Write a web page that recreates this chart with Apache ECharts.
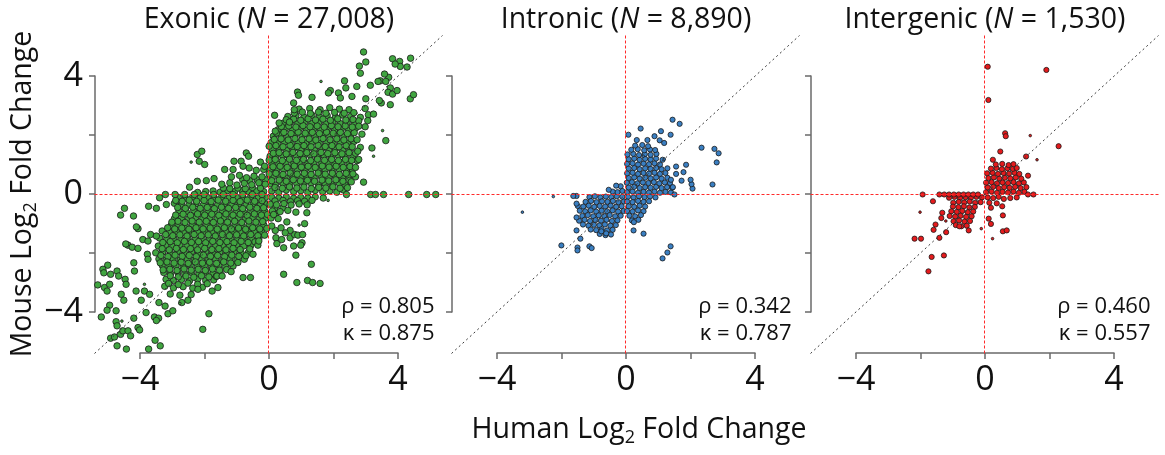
<!DOCTYPE html>
<html><head><meta charset="utf-8">
<script src="https://cdn.jsdelivr.net/npm/echarts@6/dist/echarts.min.js"></script>
<style>html,body{margin:0;padding:0;background:#fff}#c{width:1165px;height:455px}</style>
</head><body><div id="c"></div>
<script>
// ---------------- DATA (human log2 FC, mouse log2 FC) ----------------
const panelTitles = ['Exonic', 'Intronic', 'Intergenic'];
const panelN = ['27,008', '8,890', '1,530'];
const panelRho = ['0.805', '0.342', '0.460'];
const panelKappa = ['0.875', '0.787', '0.557'];
const tickLabels = {'-4': '\u22124', '0': '0', '4': '4'};

const exonicQ1 = [
[0.1,0.12],[0.32,0.08],[0.55,0.15],[0.78,0.1],[1.0,0.13],[1.22,0.07],[1.45,0.14],[1.68,0.1],[1.9,0.12],[2.12,0.08],[2.33,0.15],
[0.05,0.36],[0.22,0.32],[0.45,0.38],[0.66,0.33],[0.88,0.37],[1.1,0.34],[1.32,0.39],[1.55,0.32],[1.76,0.36],[1.98,0.33],[2.2,0.38],[2.4,0.3],
[0.12,0.58],[0.35,0.6],[0.56,0.55],[0.78,0.62],[1.0,0.57],[1.2,0.6],[1.42,0.56],[1.64,0.61],[1.86,0.57],[2.08,0.6],[2.3,0.55],[2.5,0.62],
[0.04,0.82],[0.25,0.8],[0.47,0.85],[0.68,0.79],[0.9,0.84],[1.12,0.81],[1.33,0.86],[1.55,0.8],[1.76,0.84],[1.98,0.79],[2.2,0.85],[2.42,0.8],[2.6,0.86],
[0.1,1.05],[0.32,1.03],[0.54,1.08],[0.76,1.02],[0.98,1.07],[1.2,1.04],[1.41,1.09],[1.63,1.03],[1.85,1.07],[2.06,1.02],[2.28,1.08],[2.5,1.04],
[0.05,1.3],[0.22,1.27],[0.44,1.32],[0.65,1.26],[0.87,1.31],[1.08,1.28],[1.3,1.33],[1.52,1.27],[1.73,1.31],[1.95,1.26],[2.17,1.32],[2.38,1.28],[2.62,1.3],
[0.12,1.52],[0.34,1.55],[0.56,1.5],[0.78,1.56],[1.0,1.51],[1.21,1.55],[1.43,1.5],[1.65,1.56],[1.87,1.51],[2.08,1.55],[2.3,1.5],[2.52,1.56],
[0.08,1.76],[0.28,1.73],[0.5,1.78],[0.71,1.72],[0.93,1.77],[1.15,1.74],[1.36,1.79],[1.58,1.73],[1.8,1.77],[2.01,1.72],[2.23,1.78],[2.45,1.74],[2.65,1.8],
[0.15,1.98],[0.38,2.0],[0.6,1.96],[0.82,2.02],[1.04,1.97],[1.25,2.01],[1.47,1.96],[1.69,2.02],[1.9,1.97],[2.12,2.01],[2.34,1.96],[2.55,2.02],
[0.3,2.2],[0.52,2.23],[0.74,2.18],[0.96,2.24],[1.18,2.19],[1.4,2.23],[1.61,2.18],[1.83,2.24],[2.05,2.19],[2.26,2.23],[2.48,2.18],[2.7,2.25],
[0.45,2.42],[0.68,2.45],[0.9,2.4],[1.12,2.46],[1.34,2.41],[1.56,2.45],[1.78,2.4],[2.0,2.46],[2.22,2.41],[2.44,2.45],[2.66,2.4],
[0.6,2.65],[0.85,2.68],[1.1,2.63],[1.35,2.69],[1.58,2.64],[1.82,2.68],[2.08,2.63],[2.3,2.7],[2.55,2.65],[2.85,2.62],
[0.95,2.9],[1.28,2.92],[1.6,2.88],[1.9,2.95],[2.2,2.9],[2.5,2.88],
[2.75,1.15],[2.85,1.6],[2.9,2.05],[2.7,0.6],[2.8,2.5],[3.0,2.3]
];
const exonicQ1b = [
[0.2,0.24],[0.43,0.21],[0.65,0.26],[0.88,0.22],[1.1,0.25],[1.33,0.2],[1.56,0.24],[1.78,0.22],[2.0,0.26],[2.22,0.21],[2.45,0.23],
[0.1,0.47],[0.33,0.49],[0.55,0.45],[0.77,0.5],[0.99,0.46],[1.21,0.48],[1.43,0.45],[1.66,0.49],[1.87,0.46],[2.09,0.5],[2.31,0.45],[2.52,0.48],
[0.02,0.7],[0.23,0.72],[0.45,0.68],[0.67,0.73],[0.89,0.69],[1.11,0.72],[1.32,0.68],[1.54,0.73],[1.76,0.69],[1.98,0.72],[2.2,0.68],[2.41,0.72],[2.62,0.7],
[0.14,0.94],[0.36,0.96],[0.58,0.92],[0.8,0.97],[1.02,0.93],[1.23,0.96],[1.45,0.92],[1.67,0.97],[1.88,0.93],[2.1,0.96],[2.32,0.92],[2.53,0.95],[2.7,0.92],
[0.02,1.17],[0.21,1.19],[0.43,1.15],[0.65,1.2],[0.87,1.16],[1.09,1.19],[1.31,1.15],[1.52,1.2],[1.74,1.16],[1.96,1.19],[2.17,1.15],[2.39,1.19],[2.58,1.16],
[0.15,1.4],[0.33,1.42],[0.55,1.38],[0.76,1.43],[0.98,1.39],[1.19,1.42],[1.41,1.38],[1.63,1.43],[1.84,1.39],[2.06,1.42],[2.28,1.38],[2.5,1.42],[2.7,1.4],
[0.02,1.64],[0.23,1.66],[0.45,1.62],[0.67,1.67],[0.89,1.63],[1.1,1.66],[1.32,1.62],[1.54,1.67],[1.76,1.63],[1.97,1.66],[2.19,1.62],[2.41,1.66],[2.6,1.62],
[0.18,1.87],[0.39,1.89],[0.61,1.85],[0.82,1.9],[1.04,1.86],[1.26,1.89],[1.47,1.85],[1.69,1.9],[1.91,1.86],[2.12,1.89],[2.34,1.85],[2.56,1.89],[2.75,1.86],
[0.25,2.09],[0.48,2.11],[0.7,2.07],[0.92,2.12],[1.14,2.08],[1.36,2.11],[1.58,2.07],[1.8,2.12],[2.01,2.08],[2.23,2.11],[2.45,2.07],[2.66,2.1],
[0.4,2.31],[0.63,2.33],[0.85,2.29],[1.07,2.34],[1.29,2.3],[1.51,2.33],[1.73,2.29],[1.95,2.34],[2.16,2.3],[2.38,2.33],[2.6,2.29],[2.8,2.32],
[0.55,2.54],[0.78,2.56],[1.0,2.52],[1.23,2.57],[1.46,2.53],[1.69,2.56],[1.92,2.52],[2.15,2.57],[2.4,2.53],[2.62,2.55],
[0.8,2.77],[1.05,2.8],[1.3,2.75],[1.55,2.8],[1.78,2.76],[2.05,2.79],[2.35,2.76],[2.65,2.78]
];
const exonicQ2 = [
[-0.15,0.1],[-0.38,0.12],[-0.6,0.08],[-0.82,0.14],[-1.05,0.1],[-1.28,0.13],[-1.5,0.08],[-1.72,0.12],[-1.95,0.1],[-2.2,0.07],
[-0.25,0.22],[-0.5,0.24],[-0.72,0.2],[-0.95,0.22],[-1.2,0.2],[-1.4,0.22],[-0.1,0.5],[-0.35,0.5],[-0.58,0.47],[-0.8,0.5],
[-0.1,0.35],[-0.3,0.4],[-0.52,0.33],[-0.75,0.38],[-0.98,0.32],[-1.2,0.4],[-1.45,0.35],
[-0.2,0.6],[-0.45,0.62],[-0.68,0.57],[-0.9,0.65],[-1.15,0.6],[-0.15,0.85],[-0.38,0.82],[-0.6,0.9],[-0.25,1.1],
[-2.21,1.36],[-2.07,1.47],[-2.15,1.13],[-1.98,1.02],[-2.21,0.45],[-2.45,0.25],[-1.93,0.47],[-1.69,0.54],[-1.36,0.85],[-1.1,0.85],
[-1.07,1.13],[-0.85,1.13],[-0.69,1.41],[-0.62,1.3],[-0.79,0.96],[-0.12,0.96]
];
const exonicQ3 = [
[-0.1,-0.1],[-0.32,-0.12],[-0.55,-0.08],[-0.78,-0.13],[-1.0,-0.09],[-1.22,-0.12],[-1.45,-0.08],[-1.68,-0.13],[-1.9,-0.1],[-2.12,-0.12],[-2.35,-0.08],[-2.58,-0.12],[-2.8,-0.1],
[-0.05,-0.33],[-0.25,-0.35],[-0.47,-0.31],[-0.7,-0.36],[-0.92,-0.32],[-1.14,-0.35],[-1.36,-0.31],[-1.58,-0.36],[-1.8,-0.32],[-2.02,-0.35],[-2.25,-0.31],[-2.47,-0.36],[-2.7,-0.33],[-2.92,-0.3],
[-0.12,-0.56],[-0.34,-0.58],[-0.56,-0.54],[-0.78,-0.59],[-1.0,-0.55],[-1.22,-0.58],[-1.44,-0.54],[-1.66,-0.59],[-1.88,-0.55],[-2.1,-0.58],[-2.32,-0.54],[-2.55,-0.59],[-2.78,-0.55],
[-0.08,-0.8],[-0.28,-0.82],[-0.5,-0.78],[-0.72,-0.83],[-0.94,-0.79],[-1.16,-0.82],[-1.38,-0.78],[-1.6,-0.83],[-1.82,-0.79],[-2.04,-0.82],[-2.26,-0.78],[-2.48,-0.83],[-2.7,-0.79],[-2.92,-0.82],
[-0.15,-1.03],[-0.38,-1.05],[-0.6,-1.01],[-0.82,-1.06],[-1.04,-1.02],[-1.26,-1.05],[-1.48,-1.01],[-1.7,-1.06],[-1.92,-1.02],[-2.14,-1.05],[-2.36,-1.01],[-2.58,-1.06],[-2.8,-1.02],[-3.02,-1.05],
[-0.22,-1.26],[-0.44,-1.28],[-0.66,-1.24],[-0.88,-1.29],[-1.1,-1.25],[-1.32,-1.28],[-1.54,-1.24],[-1.76,-1.29],[-1.98,-1.25],[-2.2,-1.28],[-2.42,-1.24],[-2.64,-1.29],[-2.86,-1.25],[-3.08,-1.28],[-3.3,-1.24],
[-0.3,-1.5],[-0.52,-1.52],[-0.74,-1.48],[-0.96,-1.53],[-1.18,-1.49],[-1.4,-1.52],[-1.62,-1.48],[-1.84,-1.53],[-2.06,-1.49],[-2.28,-1.52],[-2.5,-1.48],[-2.72,-1.53],[-2.94,-1.49],[-3.16,-1.52],[-3.38,-1.48],
[-0.55,-1.73],[-0.77,-1.75],[-0.99,-1.71],[-1.21,-1.76],[-1.43,-1.72],[-1.65,-1.75],[-1.87,-1.71],[-2.09,-1.76],[-2.31,-1.72],[-2.53,-1.75],[-2.75,-1.71],[-2.97,-1.76],[-3.19,-1.72],[-3.42,-1.75],
[-0.62,-1.96],[-0.85,-1.98],[-1.07,-1.94],[-1.29,-1.99],[-1.51,-1.95],[-1.73,-1.98],[-1.95,-1.94],[-2.17,-1.99],[-2.39,-1.95],[-2.61,-1.98],[-2.83,-1.94],[-3.05,-1.99],[-3.28,-1.95],[-3.5,-1.98],
[-0.75,-2.2],[-0.98,-2.22],[-1.2,-2.18],[-1.42,-2.23],[-1.64,-2.19],[-1.86,-2.22],[-2.08,-2.18],[-2.3,-2.23],[-2.52,-2.19],[-2.74,-2.22],[-2.96,-2.18],[-3.18,-2.23],[-3.4,-2.19],
[-1.1,-2.43],[-1.33,-2.45],[-1.55,-2.41],[-1.77,-2.46],[-1.99,-2.42],[-2.21,-2.45],[-2.43,-2.41],[-2.65,-2.46],[-2.87,-2.42],[-3.09,-2.45],[-3.3,-2.4],
[-1.5,-2.66],[-1.72,-2.68],[-1.94,-2.64],[-2.16,-2.69],[-2.38,-2.65],[-2.6,-2.68],[-2.82,-2.64],[-3.04,-2.69],[-3.25,-2.65],
[-1.7,-2.9],[-1.95,-2.92],[-2.2,-2.88],[-2.45,-2.93],[-2.7,-2.89],[-2.95,-2.92],[-3.18,-2.88],
[-2.05,-3.15],[-2.35,-3.18],[-2.65,-3.13],[-2.95,-3.17],[-3.22,-3.12],[-2.4,-3.4],[-2.75,-3.42],[-3.05,-3.38]
];
const exonicQ3b = [
[-0.2,-0.21],[-0.43,-0.23],[-0.66,-0.19],[-0.88,-0.24],[-1.1,-0.2],[-1.33,-0.23],[-1.56,-0.19],[-1.78,-0.24],[-2.0,-0.2],[-2.23,-0.23],[-2.46,-0.19],[-2.68,-0.23],[-2.88,-0.2],
[-0.15,-0.45],[-0.36,-0.47],[-0.58,-0.43],[-0.8,-0.48],[-1.02,-0.44],[-1.24,-0.47],[-1.46,-0.43],[-1.68,-0.48],[-1.9,-0.44],[-2.12,-0.47],[-2.35,-0.43],[-2.58,-0.47],[-2.82,-0.44],
[-0.03,-0.68],[-0.22,-0.7],[-0.44,-0.66],[-0.66,-0.71],[-0.88,-0.67],[-1.1,-0.7],[-1.32,-0.66],[-1.54,-0.71],[-1.76,-0.67],[-1.98,-0.7],[-2.2,-0.66],[-2.42,-0.71],[-2.65,-0.67],[-2.88,-0.7],
[-0.18,-0.92],[-0.39,-0.94],[-0.61,-0.9],[-0.83,-0.95],[-1.05,-0.91],[-1.27,-0.94],[-1.49,-0.9],[-1.71,-0.95],[-1.93,-0.91],[-2.15,-0.94],[-2.37,-0.9],[-2.59,-0.95],[-2.81,-0.91],[-3.0,-0.94],
[-0.05,-1.15],[-0.27,-1.17],[-0.49,-1.13],[-0.71,-1.18],[-0.93,-1.14],[-1.15,-1.17],[-1.37,-1.13],[-1.59,-1.18],[-1.81,-1.14],[-2.03,-1.17],[-2.25,-1.13],[-2.47,-1.18],[-2.69,-1.14],[-2.91,-1.17],[-3.13,-1.13],
[-0.12,-1.38],[-0.33,-1.4],[-0.55,-1.36],[-0.77,-1.41],[-0.99,-1.37],[-1.21,-1.4],[-1.43,-1.36],[-1.65,-1.41],[-1.87,-1.37],[-2.09,-1.4],[-2.31,-1.36],[-2.53,-1.41],[-2.75,-1.37],[-2.97,-1.4],[-3.19,-1.36],
[-0.42,-1.61],[-0.63,-1.63],[-0.85,-1.59],[-1.07,-1.64],[-1.29,-1.6],[-1.51,-1.63],[-1.73,-1.59],[-1.95,-1.64],[-2.17,-1.6],[-2.39,-1.63],[-2.61,-1.59],[-2.83,-1.64],[-3.05,-1.6],[-3.28,-1.63],
[-0.58,-1.85],[-0.88,-1.87],[-1.1,-1.83],[-1.32,-1.88],[-1.54,-1.84],[-1.76,-1.87],[-1.98,-1.83],[-2.2,-1.88],[-2.42,-1.84],[-2.64,-1.87],[-2.86,-1.83],[-3.08,-1.88],[-3.3,-1.84],
[-0.7,-2.08],[-0.92,-2.1],[-1.14,-2.06],[-1.36,-2.11],[-1.58,-2.07],[-1.8,-2.1],[-2.02,-2.06],[-2.24,-2.11],[-2.46,-2.07],[-2.68,-2.1],[-2.9,-2.06],[-3.12,-2.11],[-3.34,-2.07],
[-0.95,-2.31],[-1.17,-2.33],[-1.39,-2.29],[-1.61,-2.34],[-1.83,-2.3],[-2.05,-2.33],[-2.27,-2.29],[-2.49,-2.34],[-2.71,-2.3],[-2.93,-2.33],[-3.15,-2.29],[-3.36,-2.32],
[-1.3,-2.55],[-1.52,-2.57],[-1.74,-2.53],[-1.96,-2.58],[-2.18,-2.54],[-2.4,-2.57],[-2.62,-2.53],[-2.84,-2.58],[-3.06,-2.54],[-3.27,-2.56],
[-1.62,-2.78],[-1.85,-2.8],[-2.08,-2.76],[-2.32,-2.81],[-2.56,-2.77],[-2.8,-2.8],[-3.05,-2.76],
[-1.9,-3.03],[-2.2,-3.05],[-2.5,-3.01],[-2.8,-3.06],[-3.1,-3.02]
];
const exonicQ4 = [
[0.1,-0.1],[0.32,-0.12],[0.55,-0.08],[0.78,-0.13],[1.0,-0.1],[1.22,-0.12],[1.45,-0.08],[1.7,-0.12],
[0.2,-0.22],[0.45,-0.2],[0.68,-0.24],[0.9,-0.21],[1.12,-0.23],[1.35,-0.2],[0.2,-0.45],[0.45,-0.45],[0.22,-0.68],
[0.05,-0.33],[0.25,-0.35],[0.48,-0.31],[0.7,-0.36],[0.95,-0.32],[1.2,-0.35],[0.12,-0.56],[0.36,-0.58],[0.6,-0.54],[0.85,-0.6],[0.08,-0.8],[0.3,-0.82],
[1.12,-0.99],[0.16,-0.68],[0.21,-1.22],[0.23,-1.47],[0.26,-1.67],[0.41,-1.53],[0.47,-1.81],[0.67,-1.47],[0.81,-1.36],[0.91,-1.38],[1.06,-1.36],
[1.04,-1.64],[1.0,-1.72],[0.78,-1.75],[0.85,-2.06],[0.57,-0.93],[0.67,-1.22],[1.19,-0.62],[1.33,-2.37],[0.47,-2.71],[0.88,-2.99],[1.21,-2.92],
[1.37,-2.99],[1.6,-3.02],[0.39,-1.13],[0.52,-1.3],[0.1,-1.07]
];
const exonicOutliers = [
[2.95,4.84],[3.02,4.5],[3.85,4.61],[4.07,4.52],[4.09,4.35],[4.3,4.33],[4.41,4.63],[3.93,4.43],[3.73,3.98],[3.6,4.09],[3.47,3.86],[3.4,3.84],
[3.64,3.84],[3.78,3.62],[3.71,3.47],[3.85,3.41],[3.99,3.53],[4.4,3.25],[4.5,3.39],[3.5,3.11],[3.78,3.05],[3.44,3.19],[3.16,3.71],[2.82,4.36],
[2.85,4.12],[2.74,3.67],[2.36,3.86],[2.4,3.62],[2.59,3.33],[1.92,3.53],[1.86,3.45],[0.9,3.48],[0.93,3.37],[1.35,3.3],[2.17,3.45],[2.23,3.28],
[0.19,2.69],[0.21,2.15],[0.33,2.43],[0.65,2.46],[0.78,3.11],[0.8,2.88],[3.02,3.25],[3.0,2.92],[3.1,2.71],[3.26,2.73],[3.08,2.51],[3.64,1.83],
[3.21,1.58],[2.95,0.42],[2.77,1.47],[2.8,1.19],[2.57,0.43],
[2.42,0],[3.17,0],[3.32,0],[3.57,0],[4.35,0],[4.91,0],[5.19,0],
[-3.2,0],[-2.9,0],[-2.6,0],[-2.3,0],[-2.0,0],[-1.7,0],[-1.4,0],[-1.1,0],[-0.8,0],[-0.5,0],[-0.2,0],
[-4.47,-0.47],[-4.59,-0.7],[-4.19,-0.73],[-3.72,-0.4],[-3.48,-0.47],[-3.38,-0.11],[-3.17,-0.34],[-4.05,-1.16],[-4.1,-1.1],[-4.36,-1.72],
[-4.43,-1.68],[-4.23,-1.79],[-4.05,-1.83],[-3.9,-1.53],[-3.74,-1.58],[-3.66,-1.36],[-3.48,-1.41],[-3.76,-2.03],[-3.74,-2.2],[-4.99,-2.4],
[-5.14,-2.54],[-5.11,-2.66],[-4.9,-2.71],[-5.3,-3.07],[-5.09,-3.16],[-4.93,-3.05],[-5.01,-3.28],[-4.7,-2.6],[-4.65,-2.77],[-4.45,-2.88],
[-4.42,-3.05],[-4.57,-3.39],[-4.49,-3.59],[-4.18,-2.32],[-4.16,-2.6],[-4.11,-3.28],[-3.95,-3.59],[-3.85,-3.28],[-3.69,-3.39],[-4.93,-3.76],
[-5.01,-3.93],[-4.73,-3.95],[-5.19,-4.16],[-4.73,-4.32],[-4.7,-4.46],[-4.9,-4.88],[-4.78,-4.84],[-4.59,-4.75],[-4.52,-4.63],[-4.36,-4.63],
[-4.28,-4.8],[-4.41,-5.25],[-4.7,-5.14],[-4.05,-4.52],[-4.0,-4.6],[-4.18,-4.2],[-3.8,-4.01],[-3.54,-4.16],[-3.41,-4.2],[-3.48,-4.28],
[-3.52,-4.95],[-3.72,-5.25],[-3.36,-5.14],[-3.4,-3.67],[-3.21,-3.79],[-3.12,-4.05],[-2.97,-3.95],[-2.69,-3.67],[-2.5,-3.59],[-1.85,-4.05],
[-2.04,-4.58],[-2.19,-3.22],[-1.75,-3.28],[-1.57,-3.16],[-1.6,-2.77],[-1.44,-2.77],[-1.16,-2.62],[-0.79,-2.82],[-0.56,-2.82],[-0.48,-2.03],
[-0.33,-1.72],[-0.3,-1.58]
];
const exonicDots = [[1.63,3.84],[3.54,2.17],[3.26,1.3],[0.95,-1.04],[1.85,-0.2],[-2.4,1.1],[-4.55,-4.3],[-3.85,-3.05],[-2.75,-3.7]];

const intronicPts = [
[0.05,0.08],[0.22,0.1],[0.39,0.06],[0.56,0.09],[0.73,0.07],[0.9,0.1],[1.07,0.06],[1.24,0.09],[1.41,0.07],
[0.1,0.24],[0.27,0.26],[0.44,0.22],[0.61,0.25],[0.78,0.23],[0.95,0.26],[1.12,0.22],[1.29,0.25],[1.45,0.23],
[0.04,0.4],[0.2,0.42],[0.37,0.38],[0.54,0.41],[0.71,0.39],[0.88,0.42],[1.05,0.38],[1.22,0.41],[1.38,0.39],
[0.1,0.56],[0.27,0.58],[0.44,0.54],[0.61,0.57],[0.78,0.55],[0.95,0.58],[1.12,0.54],[1.3,0.57],
[0.05,0.72],[0.22,0.74],[0.39,0.7],[0.56,0.73],[0.73,0.71],[0.9,0.74],[1.07,0.7],[1.24,0.73],
[0.1,0.88],[0.27,0.9],[0.44,0.86],[0.61,0.89],[0.78,0.87],[0.95,0.9],[1.12,0.86],[1.3,0.89],
[0.05,1.04],[0.22,1.06],[0.39,1.02],[0.56,1.05],[0.73,1.03],[0.9,1.06],[1.07,1.02],
[0.1,1.2],[0.27,1.22],[0.44,1.18],[0.61,1.21],[0.78,1.19],[0.95,1.22],[1.15,1.18],
[0.06,1.36],[0.24,1.38],[0.42,1.34],[0.6,1.37],[0.78,1.35],[0.96,1.38],
[0.18,1.52],[0.38,1.54],[0.58,1.5],[0.76,1.53],[0.92,1.51],[0.3,1.66],[0.52,1.68],[0.7,1.64],
[-0.1,-0.08],[-0.27,-0.06],[-0.44,-0.09],[-0.61,-0.07],[-0.78,-0.1],[-0.95,-0.06],[-1.12,-0.09],
[-0.05,-0.24],[-0.22,-0.26],[-0.39,-0.22],[-0.56,-0.25],[-0.73,-0.23],[-0.9,-0.26],[-1.07,-0.22],[-1.24,-0.25],
[-0.12,-0.4],[-0.29,-0.42],[-0.46,-0.38],[-0.63,-0.41],[-0.8,-0.39],[-0.97,-0.42],[-1.14,-0.38],[-1.31,-0.41],[-1.48,-0.39],
[-0.06,-0.56],[-0.23,-0.58],[-0.4,-0.54],[-0.57,-0.57],[-0.74,-0.55],[-0.91,-0.58],[-1.08,-0.54],[-1.25,-0.57],[-1.42,-0.55],
[-0.15,-0.72],[-0.32,-0.74],[-0.49,-0.7],[-0.66,-0.73],[-0.83,-0.71],[-1.0,-0.74],[-1.17,-0.7],[-1.34,-0.73],
[-0.25,-0.88],[-0.42,-0.9],[-0.59,-0.86],[-0.76,-0.89],[-0.93,-0.87],[-1.1,-0.9],[-1.27,-0.86],[-1.44,-0.89],
[-0.3,-1.04],[-0.47,-1.06],[-0.64,-1.02],[-0.81,-1.05],[-0.98,-1.03],[-1.15,-1.06],[-1.32,-1.02],
[-0.4,-1.2],[-0.57,-1.22],[-0.74,-1.18],[-0.91,-1.21],[-1.08,-1.19],[-0.45,-1.36],[-0.62,-1.38],[-0.8,-1.34],
[0.08,-0.08],[0.25,-0.1],[0.42,-0.06],[0.59,-0.09],[0.76,-0.07],[0.93,-0.1],
[0.05,-0.24],[0.22,-0.26],[0.39,-0.22],[0.56,-0.25],[0.73,-0.23],
[0.1,-0.4],[0.27,-0.42],[0.44,-0.38],[0.61,-0.41],[0.05,-0.56],[0.22,-0.58],[0.39,-0.54],[0.56,-0.57],
[0.12,-0.72],[0.3,-0.74],[0.48,-0.7],[0.2,-0.88],[0.4,-0.86],
[-0.1,0.12],[-0.25,0.08],[-0.4,0.1],[-0.15,0.28],[-0.29,0.3],[-0.52,0.16],
[1.46,2.54],[1.68,2.4],[0.47,2.24],[0.09,2.03],[2.36,1.59],[2.76,1.55],[2.89,1.4],[2.83,1.09],[2.7,0.34],[2.08,0.2],[2.05,0.35],[2.02,0.5],
[1.74,0.47],[1.8,0.76],[1.88,1.01],[1.52,0.0],[0.68,1.85],[1.1,2.15],[1.4,2.03],[1.06,1.84],[1.2,1.75],[0.9,1.98],[0.35,1.85],
[1.57,0.95],[1.57,0.7],[1.47,0.25],[1.41,0.5],
[1.15,-2.17],[1.3,-1.97],[1.4,-1.76],[0.56,-1.33],[0.25,-1.22],[0.26,-0.94],
[-1.99,-1.73],[-1.49,-1.8],[-1.49,-1.9],[-1.12,-1.76],[-1.05,-1.82],[-1.4,-1.5],[-1.52,-1.22],[-1.52,-0.78],[-1.52,-0.31],[-1.52,-0.05],
[-1.62,-0.05],[-0.75,-1.25],[-0.6,-1.32]
];
const intronicDots = [[-3.2,-0.6],[-2.24,-0.07],[0.55,1.3],[1.2,1.2]];

const intergenicPts = [
[0.05,0.08],[0.22,0.1],[0.39,0.06],[0.56,0.09],[0.73,0.07],[0.9,0.1],[1.07,0.06],[1.24,0.09],
[0.1,0.24],[0.27,0.26],[0.44,0.22],[0.61,0.25],[0.78,0.23],[0.95,0.26],[1.12,0.22],[1.3,0.25],
[0.05,0.4],[0.22,0.42],[0.39,0.38],[0.56,0.41],[0.73,0.39],[0.9,0.42],[1.07,0.38],[1.22,0.41],
[0.12,0.56],[0.29,0.58],[0.46,0.54],[0.63,0.57],[0.8,0.55],[0.97,0.58],[1.14,0.54],
[0.08,0.72],[0.25,0.74],[0.42,0.7],[0.59,0.73],[0.76,0.71],[0.93,0.74],[1.08,0.7],
[0.2,0.88],[0.37,0.9],[0.54,0.86],[0.71,0.89],[0.88,0.87],[1.0,0.9],[0.35,1.02],[0.55,1.04],[0.75,1.0],[0.9,1.03],
[-0.08,-0.1],[-0.25,-0.08],[-0.42,-0.11],[-0.59,-0.09],[-0.76,-0.12],[-0.93,-0.08],[-1.1,-0.11],
[-0.12,-0.26],[-0.29,-0.28],[-0.46,-0.24],[-0.63,-0.27],[-0.8,-0.25],[-0.97,-0.28],
[-0.3,-0.42],[-0.47,-0.44],[-0.64,-0.4],[-0.81,-0.43],[-0.98,-0.41],
[-0.35,-0.58],[-0.52,-0.6],[-0.69,-0.56],[-0.86,-0.59],[-1.03,-0.57],
[-0.4,-0.74],[-0.57,-0.76],[-0.74,-0.72],[-0.91,-0.75],[-1.08,-0.73],
[-0.45,-0.9],[-0.62,-0.92],[-0.79,-0.88],[-0.96,-0.91],[-0.55,-1.06],[-0.72,-1.08],[-0.89,-1.04],
[0.1,-0.1],[0.27,-0.12],[0.44,-0.08],[0.6,-0.15],[0.15,-0.28],[0.38,-0.3],[0.2,-0.45],[0.55,-0.4],[0.8,-0.12],[1.0,-0.1],
[-1.92,0],[-1.4,0],[-1.25,0],[-1.1,0],[-0.95,0],[-0.8,0],[-0.65,0],[-0.5,0],[-0.35,0],[-0.2,0],[1.52,0],[1.35,0],
[0.1,4.34],[1.92,4.23],[0.12,3.21],[0.64,2.08],[0.66,1.98],[0.49,1.46],[0.26,1.18],[1.29,1.29],[2.3,1.64],[1.35,0.64],
[-1.6,-0.23],[-1.31,-0.62],[-1.34,-0.8],[-1.52,-1.02],[-1.58,-1.2],[-1.19,-1.28],[-1.4,-1.47],[-2.17,-1.5],[-1.97,-1.5],
[-1.64,-2.12],[-1.26,-2.07],[-1.74,-2.61],[-0.49,-1.22],[-0.78,-1.08],[0.13,-0.82],[0.2,-1.0],[0.57,-0.71],[0.57,-1.25],[0.69,-1.22]
];
const intergenicDots = [[1.42,2.0],[1.63,1.18],[-2.0,-0.6],[-0.1,-1.16],[0.25,-1.5],[-1.2,-0.9]];

// ---------------- CHART ----------------
const FONT = '"Open Sans", "Noto Sans", sans-serif';
const colors = ['#40a540', '#3a7fc2', '#e41a1c'];
const ptSizes = [6.5, 5.2, 5.2];
const panelPts = [exonicQ1.concat(exonicQ1b, exonicQ2, exonicQ3, exonicQ3b, exonicQ4, exonicOutliers), intronicPts, intergenicPts];
const panelDots = [exonicDots, intronicDots, intergenicDots];
const dataLeft = [94.5, 451.5, 810.5];
const axisLeft = [140, 497, 856];
const zeroX = [269, 626, 985];
const RED = '#ff2a2a';

const grids = [], xAxes = [], yAxes = [], series = [], graphics = [];
const lim = 5.4;
const labelFmt = v => (tickLabels[String(v)] !== undefined ? tickLabels[String(v)] : '');

for (let p = 0; p < 3; p++) {
  grids.push({left: dataLeft[p], top: 35.5, width: 348, height: 318});
  grids.push({left: axisLeft[p], top: 76, width: 258, height: 236});
  const gi = 2 * p;
  xAxes.push({gridIndex: gi, type: 'value', min: -lim, max: lim, show: false});
  yAxes.push({gridIndex: gi, type: 'value', min: -lim, max: lim, show: false});
  xAxes.push({gridIndex: gi + 1, type: 'value', min: -4, max: 4, interval: 2, position: 'bottom', offset: 41,
    axisLine: {show: true, onZero: false, lineStyle: {color: '#6a6a6a', width: 1.5}},
    axisTick: {show: true, length: 6, lineStyle: {color: '#6a6a6a', width: 1.5}},
    splitLine: {show: false}, axisPointer: {show: false},
    axisLabel: {show: true, margin: 10, formatter: labelFmt, fontFamily: FONT, fontSize: 34, color: '#111'}});
  yAxes.push({gridIndex: gi + 1, type: 'value', min: -4, max: 4, interval: 2, position: 'left', offset: 45,
    axisLine: {show: true, onZero: false, lineStyle: {color: '#6a6a6a', width: 1.5}},
    axisTick: {show: true, length: 6, lineStyle: {color: '#6a6a6a', width: 1.5}},
    splitLine: {show: false}, axisPointer: {show: false},
    axisLabel: {show: p === 0, margin: 12, formatter: labelFmt, fontFamily: FONT, fontSize: 34, color: '#111'}});

  const itemStyle = {color: colors[p], borderColor: '#1a1a1a', borderWidth: 0.8, opacity: 1};
  series.push({type: 'scatter', xAxisIndex: gi, yAxisIndex: gi, data: panelPts[p], symbolSize: ptSizes[p],
    itemStyle: itemStyle, silent: true, animation: false, z: 2});
  series.push({type: 'scatter', xAxisIndex: gi, yAxisIndex: gi, data: panelDots[p], symbolSize: 2.6,
    itemStyle: itemStyle, silent: true, animation: false, z: 2});
  // diagonal y = x
  series.push({type: 'scatter', xAxisIndex: gi, yAxisIndex: gi, data: [], silent: true, animation: false, z: 5,
    itemStyle: {color: '#3a3a3a'},
    markLine: {silent: true, symbol: ['none', 'none'], animation: false, label: {show: false},
      lineStyle: {color: '#3a3a3a', width: 1, type: [2, 3], opacity: 1},
      data: [[{coord: [-lim, -lim]}, {coord: [lim, lim]}]]}});
  // red zero lines
  series.push({type: 'scatter', xAxisIndex: gi, yAxisIndex: gi, data: [], silent: true, animation: false, z: 6,
    itemStyle: {color: RED},
    markLine: {silent: true, symbol: ['none', 'none'], animation: false, label: {show: false},
      lineStyle: {color: RED, width: 1, type: [3, 2], opacity: 1},
      data: [[{coord: [-lim, 0]}, {coord: [lim, 0]}], [{coord: [0, -lim]}, {coord: [0, lim]}]]}});

  graphics.push({type: 'text', x: zeroX[p], y: 20, style: {
    text: '{a|' + panelTitles[p] + ' (}{i|N}{a| = ' + panelN[p] + ')}', textAlign: 'center', textVerticalAlign: 'middle',
    rich: {a: {fontFamily: FONT, fontSize: 28.5, fill: '#111', color: '#111'}, i: {fontFamily: FONT, fontSize: 28.5, fontStyle: 'italic', fill: '#111', color: '#111'}}}});
  graphics.push({type: 'text', x: dataLeft[p] + 340, y: 307, style: {
    text: '\u03c1 = ' + panelRho[p], font: '22px ' + FONT, fill: '#111', textAlign: 'right', textVerticalAlign: 'middle'}});
  graphics.push({type: 'text', x: dataLeft[p] + 340, y: 334, style: {
    text: '\u03ba = ' + panelKappa[p], font: '22px ' + FONT, fill: '#111', textAlign: 'right', textVerticalAlign: 'middle'}});
}

const subRich = {
  a: {fontFamily: FONT, fontSize: 28.5, lineHeight: 34, fill: '#111', color: '#111'},
  s: {fontFamily: FONT, fontSize: 18, lineHeight: 14, verticalAlign: 'bottom', fill: '#111', color: '#111'}
};
graphics.push({type: 'text', x: 23, y: 194, rotation: Math.PI / 2, style: {
  text: '{a|Mouse Log}{s|2}{a| Fold Change}', textAlign: 'center', textVerticalAlign: 'middle', rich: subRich}});
graphics.push({type: 'text', x: 639, y: 430, style: {
  text: '{a|Human Log}{s|2}{a| Fold Change}', textAlign: 'center', textVerticalAlign: 'middle', rich: subRich}});

const chart = echarts.init(document.getElementById('c'), null, {renderer: 'canvas'});
chart.setOption({
  animation: false,
  backgroundColor: '#fff',
  grid: grids, xAxis: xAxes, yAxis: yAxes, series: series, graphic: graphics
});
</script></body></html>
